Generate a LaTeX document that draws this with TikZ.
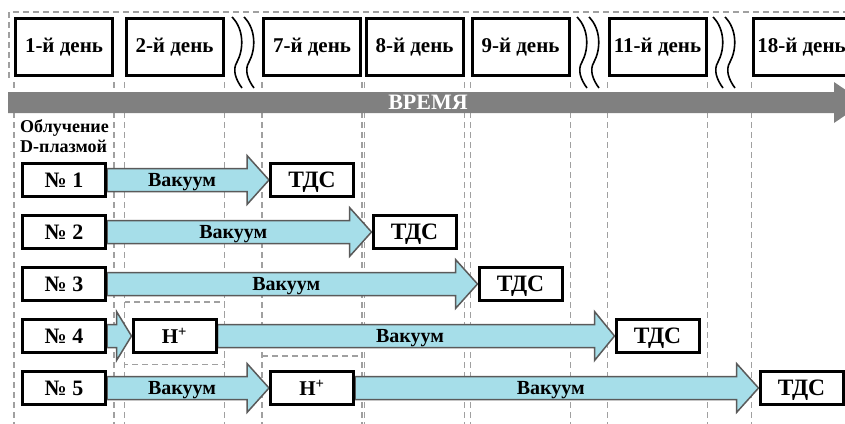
\documentclass[tikz,border=0pt]{standalone}
\usepackage{fontspec}
\setmainfont{Liberation Serif}
\usepackage{tikz}
\usetikzlibrary{
  positioning, calc,
  backgrounds
}
\definecolor{vaccyan}{RGB}{166,222,233}
\definecolor{arrgray}{RGB}{90,90,90}
\definecolor{timegray}{RGB}{128,128,128}
\definecolor{guidegray}{RGB}{160,160,160}
\tikzset{
  basebox/.style={rectangle,draw=black,line width=3pt,fill=white,align=center,font=\bfseries},
  daybox/.style={basebox,minimum width=97pt,minimum height=57pt,font=\fontsize{21}{24}\selectfont\bfseries},
  samplebox/.style={basebox,minimum width=83pt,minimum height=33pt,font=\fontsize{22}{24}\selectfont\bfseries},
  tdsbox/.style={basebox,minimum width=83pt,minimum height=33pt,text depth=0pt,font=\fontsize{23.5}{24}\selectfont\bfseries},
  hbox/.style={basebox,minimum width=83pt,minimum height=33pt,font=\fontsize{21}{24}\selectfont\bfseries},
  vaclabel/.style={inner sep=0pt,text depth=0pt,font=\fontsize{20}{22}\selectfont\bfseries},
  timelabel/.style={inner sep=0pt,text depth=0pt,text=white,font=\fontsize{22}{24}\selectfont\bfseries},
  irrlabel/.style={inner sep=0pt,align=left,font=\fontsize{18}{20}\selectfont\bfseries},
  vacarr/.style={fill=vaccyan,draw=arrgray,line width=1.5pt},
  guide/.style={draw=guidegray,line width=1.2pt,dash pattern=on 6pt off 4pt},
  wave/.style={draw=black,line width=1.6pt}
}
% block arrow from one node to another, optional head length
\newcommand{\vacarrow}[3][22]{%
  \path[vacarr] let \p1=(#2.east), \p2=(#3.west) in
    (\x1,\y1+11.5pt) -- (\x2-#1pt,\y1+11.5pt) -- (\x2-#1pt,\y1+24.5pt) -- (\x2,\y1)
    -- (\x2-#1pt,\y1-24.5pt) -- (\x2-#1pt,\y1-11.5pt) -- (\x1,\y1-11.5pt) -- cycle;}

\begin{document}
\begin{tikzpicture}[x=1pt,y=-1pt]
  \useasboundingbox (0,0) rectangle (845,423);
  \clip (0,0) rectangle (845,423);
  % days
  \node[daybox] (d1) at (64,47) {1-й день};
  \node[daybox] (d2) at (174.5,47) {2-й день};
  \node[daybox] (d7) at (312,47) {7-й день};
  \node[daybox] (d8) at (414.5,47) {8-й день};
  \node[daybox] (d9) at (520.5,47) {9-й день};
  \node[daybox] (d11) at (657.5,47) {11-й день};
  \node[daybox] (d18) at (801.5,47) {18-й день};
  % breaks in time
  \coordinate (br1) at (232,17);
  \coordinate (br2) at (577,17);
  \coordinate (br3) at (713,17);
  \foreach \b in {br1,br2,br3}
    \foreach \dx in {0,12}{
      \begin{scope}[shift={(\b)},xshift=\dx pt]
        \draw[wave] (0,0) .. controls (12,12) and (12,32) .. (5,45)
          .. controls (0,53) and (4,63) .. (10,71);
      \end{scope}}
  \node[timelabel] (time) at (428,102.5) {ВРЕМЯ};
  \node[irrlabel,anchor=north west] (irr) at (20,119) {Облучение\\D-плазмой};
  % samples
  \node[samplebox] (n1) at (64,180) {№ 1};
  \node[samplebox] (n2) at (64,232) {№ 2};
  \node[samplebox] (n3) at (64,284) {№ 3};
  \node[samplebox] (n4) at (64,336) {№ 4};
  \node[samplebox] (n5) at (64,388) {№ 5};
  \node[hbox] (h4) at (d2 |- n4) {H\textsuperscript{+}};
  \node[hbox] (h5) at (d7 |- n5) {H\textsuperscript{+}};
  \node[tdsbox] (t1) at (d7 |- n1) {ТДС};
  \node[tdsbox] (t2) at (d8 |- n2) {ТДС};
  \node[tdsbox] (t3) at (d9 |- n3) {ТДС};
  \node[tdsbox] (t4) at (d11 |- n4) {ТДС};
  \node[tdsbox] (t5) at (d18 |- n5) {ТДС};
  \begin{pgfonlayer}{background}
    \draw[guide] (9,78) -- (9,12) -- (845,12);
    \foreach \d in {d1,d2,d7,d8,d9,d11,d18}{
      \draw[guide] ([yshift=-5pt]\d.south west) -- ++(0,350);
      \draw[guide] ([yshift=-5pt]\d.south east) -- ++(0,350);}
    \draw[guide] ($(h4.north -| d2.west)+(0,-16)$) rectangle ($(h4.south -| d2.east)+(0,10.5)$);
    \draw[guide] ($(h5.north -| d7.west)+(0,-14)$) -- ($(h5.north -| d7.east)+(0,-14)$);
    \fill[timegray] (8,92) -- (834,92) -- (834,82) -- (864,102.5) -- (834,123) -- (834,113) -- (8,113) -- cycle;
    \vacarrow{n1}{t1}
    \vacarrow{n2}{t2}
    \vacarrow{n3}{t3}
    \vacarrow[15]{n4}{h4}
    \vacarrow[20]{h4}{t4}
    \vacarrow{n5}{h5}
    \vacarrow{h5}{t5}
  \end{pgfonlayer}
  % labels on arrows
  \node[vaclabel,xshift=-6pt] (v1) at ($(n1.east)!0.5!(t1.west)$) {Вакуум};
  \node[vaclabel,xshift=-6pt] (v2) at ($(n2.east)!0.5!(t2.west)$) {Вакуум};
  \node[vaclabel,xshift=-6pt] (v3) at ($(n3.east)!0.5!(t3.west)$) {Вакуум};
  \node[vaclabel,xshift=-6pt] (v4) at ($(h4.east)!0.5!(t4.west)$) {Вакуум};
  \node[vaclabel,xshift=-6pt] (v5a) at ($(n5.east)!0.5!(h5.west)$) {Вакуум};
  \node[vaclabel,xshift=-6pt] (v5b) at ($(h5.east)!0.5!(t5.west)$) {Вакуум};
\end{tikzpicture}
\end{document}
